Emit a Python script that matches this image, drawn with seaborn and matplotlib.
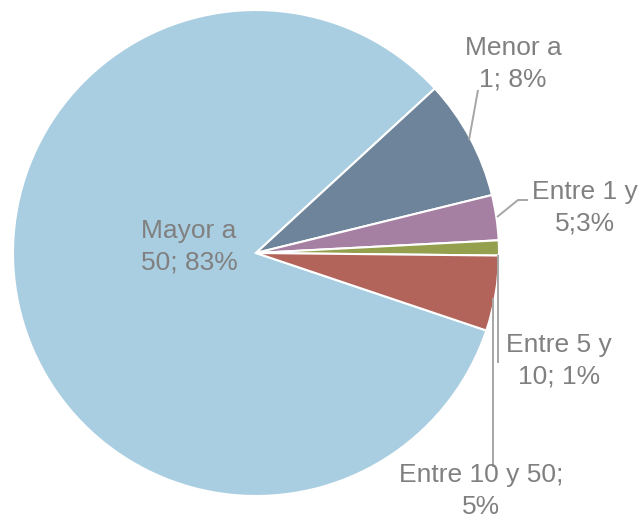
import matplotlib
matplotlib.use("Agg")
import matplotlib.pyplot as plt
import seaborn as sns

# Share of items by size range
categories = ["Mayor a 50", "Menor a 1", "Entre 1 y 5", "Entre 5 y 10", "Entre 10 y 50"]
values = [83, 8, 3, 1, 5]
labels = ["Mayor a\n50; 83%", "Menor a\n1; 8%", "Entre 1 y\n5;3%", "Entre 5 y\n10; 1%", "Entre 10 y 50;\n5%"]
colors = ["#AACEE1", "#6E849A", "#A680A2", "#94A04E", "#B2645A"]

sns.set_theme(style="white")
plt.rcParams["font.family"] = ["Liberation Sans", "DejaVu Sans"]

W, H = 639, 521
fig = plt.figure(figsize=(W / 100, H / 100), dpi=100)
ax = fig.add_axes([0, 0, 1, 1])

cx, cy, r = 256, H - 253, 243
ax.pie(values, colors=colors, startangle=-18.6, counterclock=False,
       center=(cx, cy), radius=r, frame=True,
       wedgeprops=dict(edgecolor="white", linewidth=1.5))
ax.set_xlim(0, W)
ax.set_ylim(0, H)
ax.set_aspect("equal")
ax.axis("off")

text_color = "#808080"
line_color = "#A6A6A6"

# leader lines (pixel coordinates, y measured from top)
leaders = [
    [(469, 140), (478, 90)],
    [(497, 217), (518, 200), (528, 200)],
    [(498, 255), (498, 363)],
    [(493, 298), (493, 467)],
]
for pts in leaders:
    xs = [p[0] for p in pts]
    ys = [H - p[1] for p in pts]
    ax.plot(xs, ys, color=line_color, lw=1.4, solid_capstyle="butt")

label_pos = [(189, 247), (513, 64), (585, 208), (559, 361), (481, 491)]
for lab, (x, y) in zip(labels, label_pos):
    ax.text(x, H - y, lab, ha="center", va="center", fontsize=19,
            color=text_color, linespacing=1.38)

fig.savefig("out.png", dpi=100)
